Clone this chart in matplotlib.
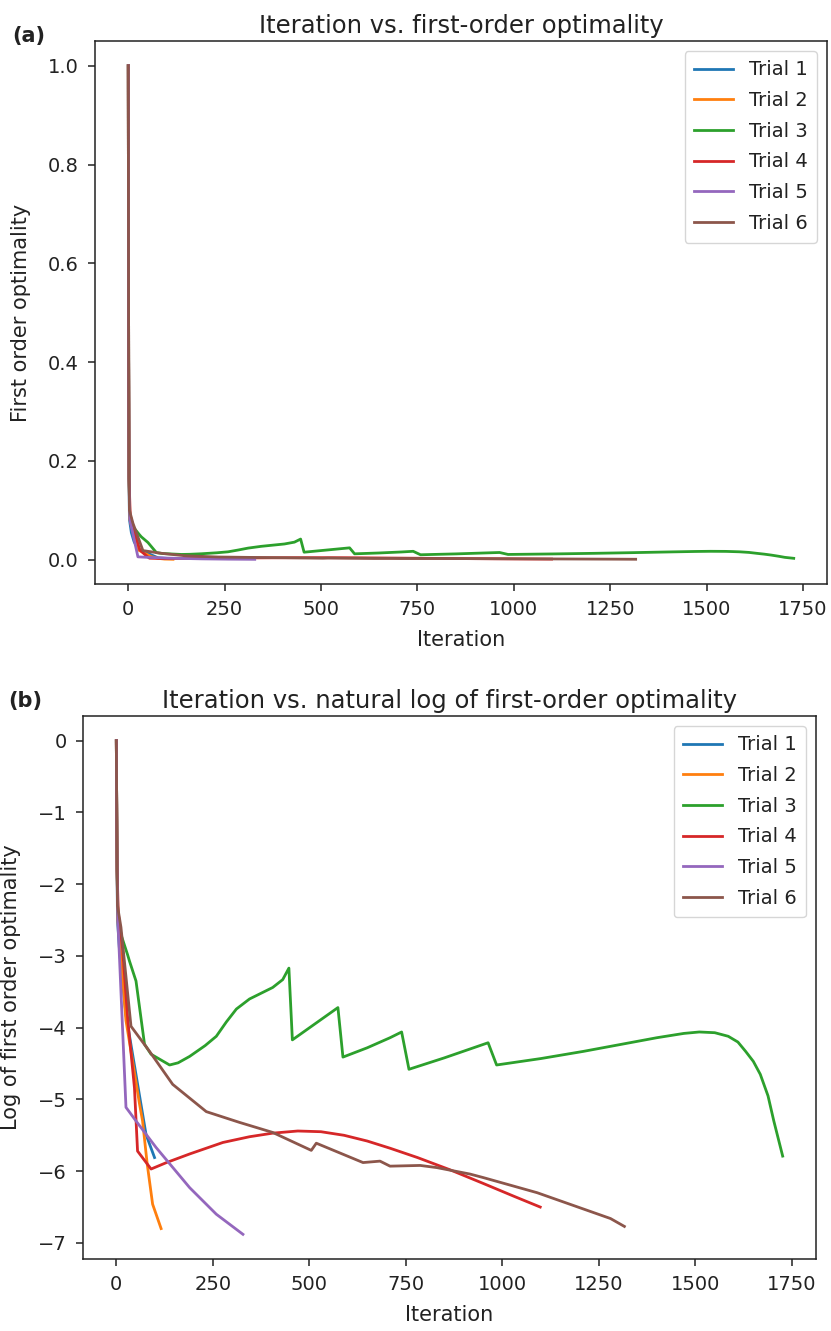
import numpy as np
import matplotlib
matplotlib.use("Agg")
import matplotlib.pyplot as plt

# ---- data (natural log of first-order optimality) ----
labels = ["Trial 1", "Trial 2", "Trial 3", "Trial 4", "Trial 5", "Trial 6"]

t1_x = [0, 1, 2, 3, 8, 15, 25, 77, 99]
t1_y = [0, -0.9, -1.8, -2.5, -2.9, -3.3, -3.82, -5.49, -5.81]

t2_x = [0, 1, 2, 4, 25, 60, 68, 80, 94, 116]
t2_y = [0, -0.9, -1.8, -2.5, -3.9, -5.06, -5.3, -5.9, -6.46, -6.8]

t3_x = [0, 1, 2, 4, 12, 29, 34, 51, 73, 90, 138, 160, 190, 230, 259, 285, 311, 345,
        405, 431, 447, 456, 574, 587, 650, 709, 739, 758, 850, 963, 985, 1100, 1210,
        1300, 1400, 1470, 1510, 1550, 1585, 1610, 1630, 1650, 1668, 1688, 1703, 1726]
t3_y = [0, -0.9, -1.8, -2.4, -2.7, -2.98, -3.07, -3.35, -4.23, -4.37, -4.52, -4.49,
        -4.4, -4.25, -4.12, -3.92, -3.74, -3.6, -3.44, -3.33, -3.17, -4.17, -3.72,
        -4.41, -4.28, -4.14, -4.06, -4.58, -4.42, -4.21, -4.52, -4.43, -4.33, -4.24,
        -4.14, -4.08, -4.06, -4.07, -4.12, -4.2, -4.33, -4.47, -4.65, -4.95, -5.3,
        -5.79]

t4_x = [0, 1, 2, 5, 16, 30, 47, 55, 90, 130, 190, 276, 345, 405, 470, 530, 590, 650,
        709, 780, 864, 950, 1030, 1098]
t4_y = [0, -0.9, -1.8, -2.4, -2.89, -3.91, -4.84, -5.72, -5.97, -5.88, -5.76, -5.6,
        -5.52, -5.47, -5.44, -5.45, -5.5, -5.58, -5.68, -5.81, -5.98, -6.17, -6.35,
        -6.5]

t5_x = [0, 1, 2, 4, 25, 51, 103, 190, 259, 328]
t5_y = [0, -0.9, -1.8, -2.5, -5.11, -5.3, -5.67, -6.23, -6.6, -6.88]

t6_x = [0, 1, 2, 3, 12, 38, 86, 146, 233, 319, 405, 505, 518, 639, 683, 709, 787,
        830, 916, 951, 1090, 1280, 1316]
t6_y = [0, -0.9, -1.8, -2.3, -2.6, -3.98, -4.33, -4.79, -5.17, -5.32, -5.46, -5.71,
        -5.61, -5.88, -5.86, -5.93, -5.92, -5.95, -6.04, -6.09, -6.3, -6.66, -6.77]

trials_x = [t1_x, t2_x, t3_x, t4_x, t5_x, t6_x]
trials_logy = [t1_y, t2_y, t3_y, t4_y, t5_y, t6_y]

colors = ["#1f77b4", "#ff7f0e", "#2ca02c", "#d62728", "#9467bd", "#8c564b"]
xticks = [0, 250, 500, 750, 1000, 1250, 1500, 1750]
yticks_a = [0.0, 0.2, 0.4, 0.6, 0.8, 1.0]
yticks_b = [0, -1, -2, -3, -4, -5, -6, -7]

plt.rcParams.update({
    "font.family": ["DejaVu Sans"],
    "font.size": 14,
    "axes.linewidth": 1.1,
    "xtick.major.width": 1.1,
    "ytick.major.width": 1.1,
    "xtick.major.size": 4.7,
    "ytick.major.size": 4.7,
    "xtick.major.pad": 6.5,
    "ytick.major.pad": 7,
    "xtick.labelsize": 14,
    "ytick.labelsize": 14,
    "text.color": "#222222",
    "axes.labelcolor": "#222222",
    "xtick.color": "#222222",
    "ytick.color": "#222222",
    "axes.edgecolor": "#222222",
})

fig = plt.figure(figsize=(8.31, 13.31), dpi=100)
ax1 = fig.add_axes([95 / 831, 1 - 584 / 1331, 732 / 831, 543 / 1331])
ax2 = fig.add_axes([83 / 831, 1 - 1259 / 1331, 733 / 831, 543 / 1331])

for x, ly, c, lab in zip(trials_x, trials_logy, colors, labels):
    ax1.plot(x, np.exp(ly), color=c, lw=2.0, label=lab)
    ax2.plot(x, ly, color=c, lw=2.0, label=lab)

for ax, title, ylab, yt in [
    (ax1, "Iteration vs. first-order optimality", "First order optimality", yticks_a),
    (ax2, "Iteration vs. natural log of first-order optimality",
     "Log of first order optimality", yticks_b),
]:
    ax.set_title(title, fontsize=17.5, pad=5.5)
    ax.set_xlabel("Iteration", fontsize=15, labelpad=8)
    ax.set_ylabel(ylab, fontsize=15, labelpad=12)
    ax.set_xticks(xticks)
    ax.set_yticks(yt)
    ax.legend(loc="upper right", fontsize=14, labelspacing=0.6, borderpad=0.5,
              handlelength=2.0)

fig.text(12 / 831, 1 - 36 / 1331, "(a)", fontsize=15, fontweight="bold",
         va="center", ha="left")
fig.text(8 / 831, 1 - 701 / 1331, "(b)", fontsize=15, fontweight="bold",
         va="center", ha="left")

fig.savefig("out.png", dpi=100)
